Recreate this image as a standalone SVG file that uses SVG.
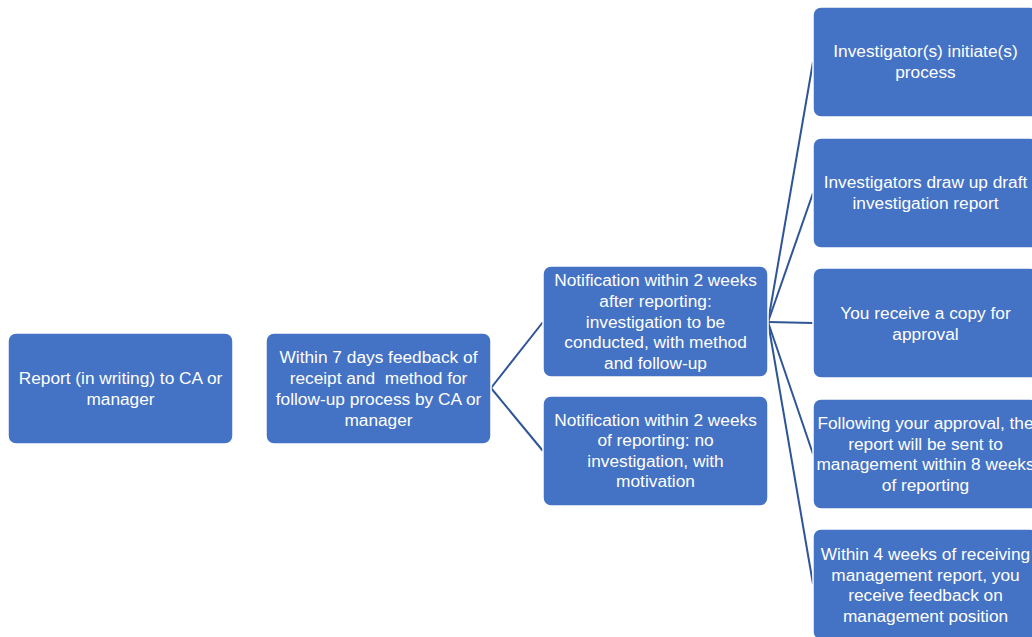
<svg xmlns="http://www.w3.org/2000/svg" width="1032" height="637" viewBox="0 0 1032 637">
<style>
.box{fill:#4472C4;stroke:#FFFFFF;stroke-width:1.5}
.t{fill:#FFFFFF;font-family:"Liberation Sans",Arial,sans-serif;font-size:17.3px;text-anchor:middle}
.c{stroke:#2F5597;stroke-width:2;fill:none}
</style>
<rect width="1032" height="637" fill="#FFFFFF"/>
<g id="connectors">
<line class="c" x1="491" y1="388" x2="543" y2="322"/>
<line class="c" x1="491" y1="388" x2="543" y2="451"/>
<line class="c" x1="768" y1="322" x2="813" y2="62"/>
<line class="c" x1="768" y1="322" x2="813" y2="193"/>
<line class="c" x1="768" y1="322" x2="813" y2="323"/>
<line class="c" x1="768" y1="322" x2="813" y2="454"/>
<line class="c" x1="768" y1="322" x2="813" y2="584"/>
</g>
<g id="n1"><rect class="box" x="8" y="333" width="225" height="111" rx="8"/>
<text class="t"><tspan x="120.5" y="384">Report (in writing) to CA or</tspan><tspan x="120.5" y="405">manager</tspan></text></g>
<g id="n2"><rect class="box" x="266" y="333" width="225" height="111" rx="8"/>
<text class="t" xml:space="preserve"><tspan x="378.5" y="363">Within 7 days feedback of</tspan><tspan x="378.5" y="384">receipt and  method for</tspan><tspan x="378.5" y="405">follow-up process by CA or</tspan><tspan x="378.5" y="426">manager</tspan></text></g>
<g id="n3"><rect class="box" x="543" y="266" width="225" height="111" rx="8"/>
<text class="t"><tspan x="655.5" y="286">Notification within 2 weeks</tspan><tspan x="655.5" y="307">after reporting:</tspan><tspan x="655.5" y="328">investigation to be</tspan><tspan x="655.5" y="348">conducted, with method</tspan><tspan x="655.5" y="369">and follow-up</tspan></text></g>
<g id="n4"><rect class="box" x="543" y="396" width="225" height="110" rx="8"/>
<text class="t"><tspan x="655.5" y="426">Notification within 2 weeks</tspan><tspan x="655.5" y="446">of reporting: no</tspan><tspan x="655.5" y="467">investigation, with</tspan><tspan x="655.5" y="487">motivation</tspan></text></g>
<g id="n5"><rect class="box" x="813" y="7" width="225" height="110" rx="8"/>
<text class="t"><tspan x="925.5" y="57">Investigator(s) initiate(s)</tspan><tspan x="925.5" y="78">process</tspan></text></g>
<g id="n6"><rect class="box" x="813" y="138" width="225" height="110" rx="8"/>
<text class="t"><tspan x="925.5" y="188">Investigators draw up draft</tspan><tspan x="925.5" y="209">investigation report</tspan></text></g>
<g id="n7"><rect class="box" x="813" y="268" width="225" height="110" rx="8"/>
<text class="t"><tspan x="925.5" y="319">You receive a copy for</tspan><tspan x="925.5" y="340">approval</tspan></text></g>
<g id="n8"><rect class="box" x="813" y="399" width="225" height="110" rx="8"/>
<text class="t"><tspan x="925.5" y="429">Following your approval, the</tspan><tspan x="925.5" y="450">report will be sent to</tspan><tspan x="925.5" y="470">management within 8 weeks</tspan><tspan x="925.5" y="491">of reporting</tspan></text></g>
<g id="n9"><rect class="box" x="813" y="529" width="225" height="111" rx="8"/>
<text class="t"><tspan x="925.5" y="560">Within 4 weeks of receiving</tspan><tspan x="925.5" y="581">management report, you</tspan><tspan x="925.5" y="601">receive feedback on</tspan><tspan x="925.5" y="622">management position</tspan></text></g>
</svg>
